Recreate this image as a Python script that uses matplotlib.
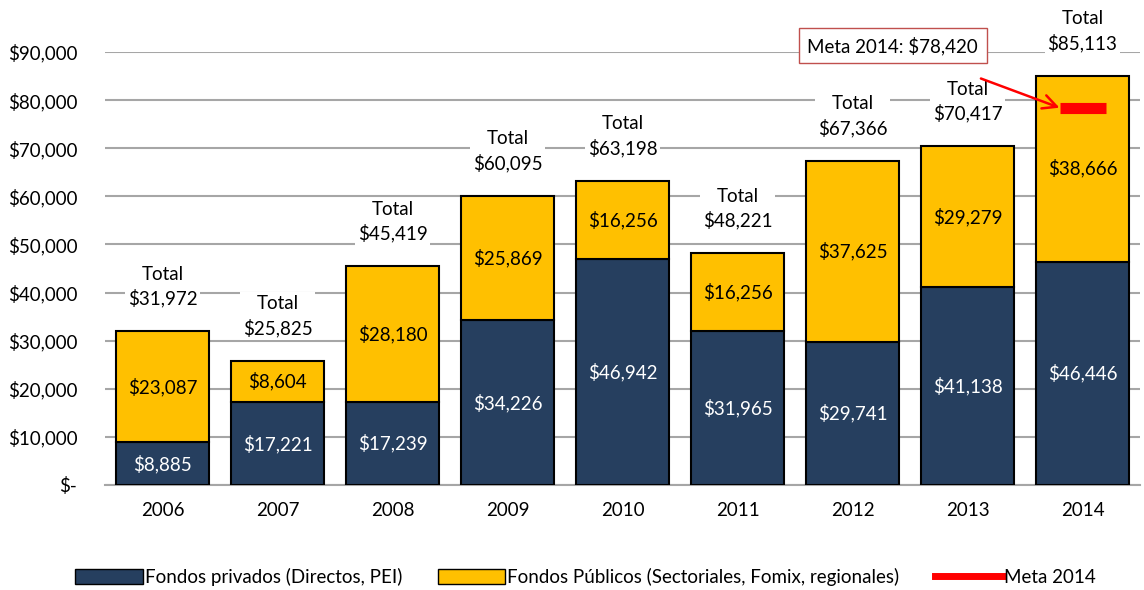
import matplotlib
matplotlib.use("Agg")
import matplotlib.pyplot as plt
from matplotlib.patches import Patch
from matplotlib.lines import Line2D
import numpy as np

years = ["2006", "2007", "2008", "2009", "2010", "2011", "2012", "2013", "2014"]
privados = [8885, 17221, 17239, 34226, 46942, 31965, 29741, 41138, 46446]
publicos = [23087, 8604, 28180, 25869, 16256, 16256, 37625, 29279, 38666]
totales = [31972, 25825, 45419, 60095, 63198, 48221, 67366, 70417, 85113]
meta_2014 = 78420
yticks = [0, 10000, 20000, 30000, 40000, 50000, 60000, 70000, 80000, 90000]

plt.rcParams['font.family'] = ['Lato', 'DejaVu Sans']

navy = "#263F5F"
gold = "#FFC000"

fig = plt.figure(figsize=(11.44, 5.90), dpi=100)
ax = fig.add_axes([105/1144, 1-485/590, 1035/1144, 433/590])

x = np.arange(len(years))
w = 0.81
ax.bar(x, privados, width=w, color=navy, edgecolor="black", linewidth=1.5, zorder=3)
ax.bar(x, publicos, width=w, bottom=privados, color=gold, edgecolor="black", linewidth=1.5, zorder=3)

fs = 13.5
for i in range(len(years)):
    ax.text(x[i], privados[i]/2, f"${privados[i]:,}", ha="center", va="center",
            color="white", fontsize=fs, zorder=5)
    ax.text(x[i], privados[i] + publicos[i]/2, f"${publicos[i]:,}", ha="center", va="center",
            color="black", fontsize=fs, zorder=5)
    ax.annotate(f"Total\n${totales[i]:,}", xy=(x[i], totales[i]), xytext=(0, 17),
                textcoords="offset points", ha="center", va="bottom", fontsize=fs,
                linespacing=1.4, annotation_clip=False,
                bbox=dict(boxstyle="square,pad=0.15", fc="white", ec="none"), zorder=4)

# meta line
i14 = years.index("2014")
ax.plot([x[i14]-0.2, x[i14]+0.2], [meta_2014, meta_2014], color="red", lw=8,
        solid_capstyle="butt", zorder=6)
ax.annotate("Meta 2014: $78,420", xy=(x[i14]-0.2, meta_2014), xytext=(x[i14]-1.65, 91300),
            ha="center", va="center", fontsize=fs, annotation_clip=False,
            bbox=dict(boxstyle="square,pad=0.45", fc="white", ec="#C0504D", lw=1),
            arrowprops=dict(arrowstyle="->", color="red", lw=1.8, mutation_scale=25,
                            shrinkA=30, shrinkB=0),
            zorder=7)

ax.set_ylim(0, 90000)
ax.set_xlim(-0.5, len(years)-0.5)
ax.set_yticks(yticks)
ax.set_yticklabels(["$-" if v == 0 else f"${v:,}" for v in yticks], fontsize=fs)
ax.set_xticks(x)
ax.set_xticklabels(years, fontsize=fs)
ax.tick_params(axis="both", length=0, pad=12)
ax.tick_params(axis="y", pad=20)
ax.grid(axis="y", color="#A6A6A6", lw=1.5, zorder=0)
for s in ["top", "right", "left"]:
    ax.spines[s].set_visible(False)
ax.spines["bottom"].set_color("#A6A6A6")
ax.spines["bottom"].set_linewidth(1.5)

handles = [Patch(facecolor=navy, edgecolor="black", label="Fondos privados (Directos, PEI)"),
           Patch(facecolor=gold, edgecolor="black", label="Fondos Públicos (Sectoriales, Fomix, regionales)"),
           Line2D([0], [0], color="red", lw=5, label="Meta 2014")]
fig.legend(handles=handles, loc="center", bbox_to_anchor=(0.512, 1-577/590), ncol=3,
           frameon=False, fontsize=fs, handlelength=3.6, handleheight=0.9,
           handletextpad=0.1, columnspacing=1.9)

fig.savefig("out.png", dpi=100)
